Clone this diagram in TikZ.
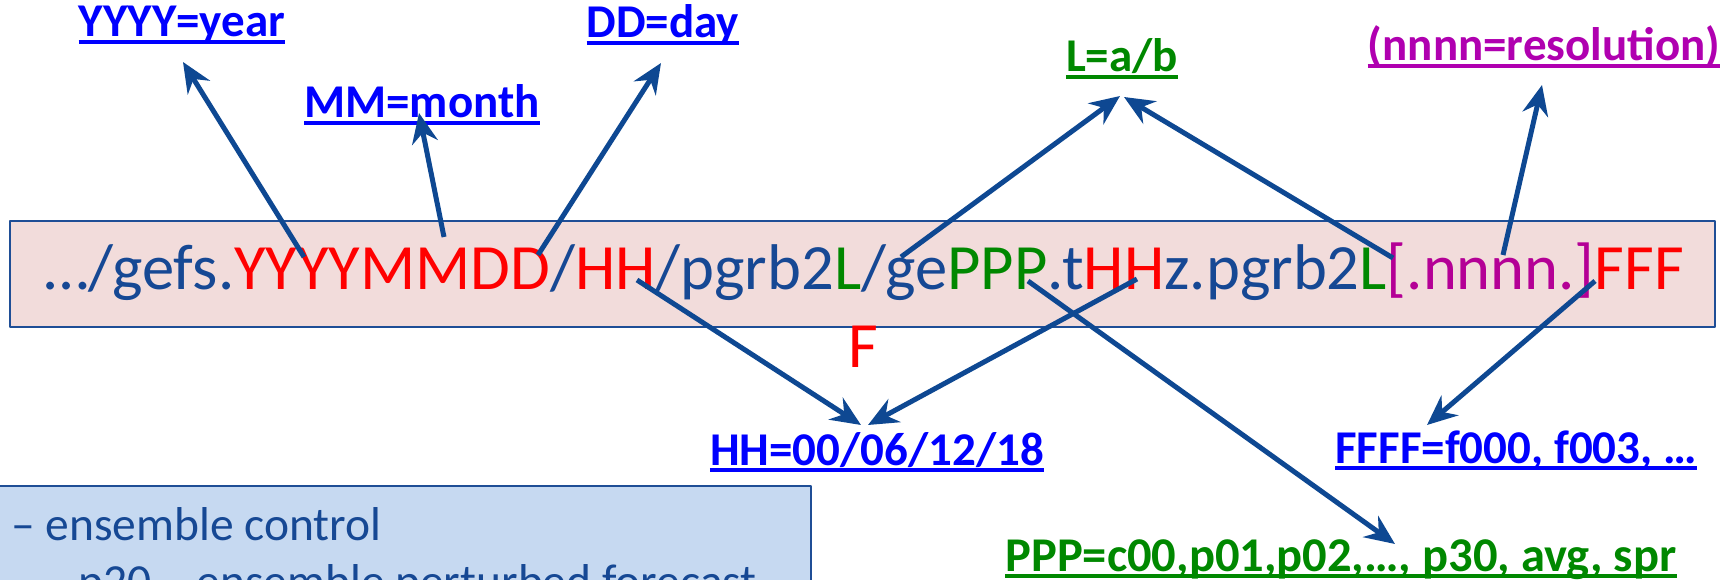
\documentclass[tikz,border=0pt]{standalone}
\usepackage{fontspec}
\setmainfont{Carlito}
\usetikzlibrary{arrows.meta}
\definecolor{txtblue}{RGB}{22,72,148}
\definecolor{arrowblue}{RGB}{14,72,146}
\definecolor{edgeblue}{RGB}{31,78,150}
\definecolor{boxpink}{RGB}{242,220,219}
\definecolor{notefill}{RGB}{198,217,241}
\definecolor{linkblue}{RGB}{0,0,255}
\definecolor{partgreen}{RGB}{0,136,0}
\definecolor{partmagenta}{RGB}{180,0,150}
\definecolor{labmagenta}{RGB}{176,0,176}
\newcommand \mypointer[2]
{
\draw[ptr] (#1)--(#2);
}
\newcommand \myunderline[2]
{
\draw[#2, line width=4.5pt] ([yshift=-5pt]#1.base west)--([yshift=-5pt]#1.base east);
}

\begin{document}
\begin{tikzpicture}[x=1pt,y=-1pt, line join=round,
  lab/.style={font=\fontsize{47}{56}\selectfont\bfseries, inner sep=0pt, anchor=base},
  ptr/.style={-{Stealth[length=30pt,width=26pt,inset=10pt]}, line width=5pt, draw=arrowblue}]
\useasboundingbox (0,0) rectangle (1733,580);
% file name in its box
\node[draw=edgeblue, line width=2pt, fill=boxpink, minimum width=1705pt, minimum height=106pt, inner sep=0pt] (urlbox) at (862.5,274) {};
\node[anchor=base, inner sep=0pt, text=txtblue, font=\fontsize{64.6}{72}\selectfont] (path) at (864,290)
  {…/gefs.\textcolor{red}{YYYYMMDD}/\textcolor{red}{HH}/pgrb2\textcolor{partgreen}{L}/ge\textcolor{partgreen}{PPP}.t\textcolor{red}{HH}z.pgrb2\textcolor{partgreen}{L}\textcolor{partmagenta}{[.nnnn.]}\textcolor{red}{FFF}};
\node[anchor=base, inner sep=0pt, text=red, font=\fontsize{64.6}{72}\selectfont] (wrapF) at (863,367) {F};
% note box, cut by the page
\draw[draw=edgeblue, line width=2pt, fill=notefill] (-20,486) rectangle (811,640);
\node[anchor=base west, inner sep=0pt, text=txtblue, font=\fontsize{47.5}{52}\selectfont] (ctl) at (-68,540) {c00 – ensemble control};
\node[anchor=base west, inner sep=0pt, text=txtblue, font=\fontsize{47.5}{52}\selectfont] (pert) at (78,597) {p20 – ensemble perturbed forecast};
% labels
\node[lab, text=linkblue] (year) at (182,37) {YYYY=year};
\node[lab, text=linkblue] (month) at (422,118) {MM=month};
\node[lab, text=linkblue] (day) at (663,38) {DD=day};
\node[lab, text=partgreen] (lev) at (1122,72) {L=a/b};
\node[lab, text=labmagenta] (res) at (1544,61) {(nnnn=resolution)};
\node[lab, text=linkblue] (hour) at (877,465) {HH=00/06/12/18};
\node[lab, text=linkblue] (fhr) at (1516,463) {FFFF=f000, f003, …};
\node[lab, text=partgreen, font=\fontsize{48.5}{56}\selectfont\bfseries] (mem) at (1341,571) {PPP=c00,p01,p02,…, p30, avg, spr};
\myunderline{year}{linkblue}
\myunderline{month}{linkblue}
\myunderline{day}{linkblue}
\myunderline{lev}{partgreen}
\myunderline{res}{labmagenta}
\myunderline{hour}{linkblue}
\myunderline{fhr}{linkblue}
\myunderline{mem}{partgreen}
% where the pointers start and end
\coordinate (sY) at (304,257);  \coordinate (tY) at (183,62);
\coordinate (sM) at (444,237);  \coordinate (tM) at (419,113);
\coordinate (sD) at (538,255);  \coordinate (tD) at (661,63);
\coordinate (sL1) at (901,257); \coordinate (tL1) at (1120,96);
\coordinate (sL2) at (1393,258);\coordinate (tL2) at (1124,97);
\coordinate (sN) at (1503,255); \coordinate (tN) at (1542,85);
\coordinate (sH1) at (637,280); \coordinate (tH1) at (861,425);
\coordinate (sH2) at (1137,279);\coordinate (tH2) at (868,425);
\coordinate (sP) at (1028,281); \coordinate (tP) at (1395,544);
\coordinate (sF) at (1595,281); \coordinate (tF) at (1427,425);
\mypointer{sY}{tY}
\mypointer{sM}{tM}
\mypointer{sD}{tD}
\mypointer{sL1}{tL1}
\mypointer{sL2}{tL2}
\mypointer{sN}{tN}
\mypointer{sH1}{tH1}
\mypointer{sH2}{tH2}
\mypointer{sP}{tP}
\mypointer{sF}{tF}
\end{tikzpicture}
\end{document}
